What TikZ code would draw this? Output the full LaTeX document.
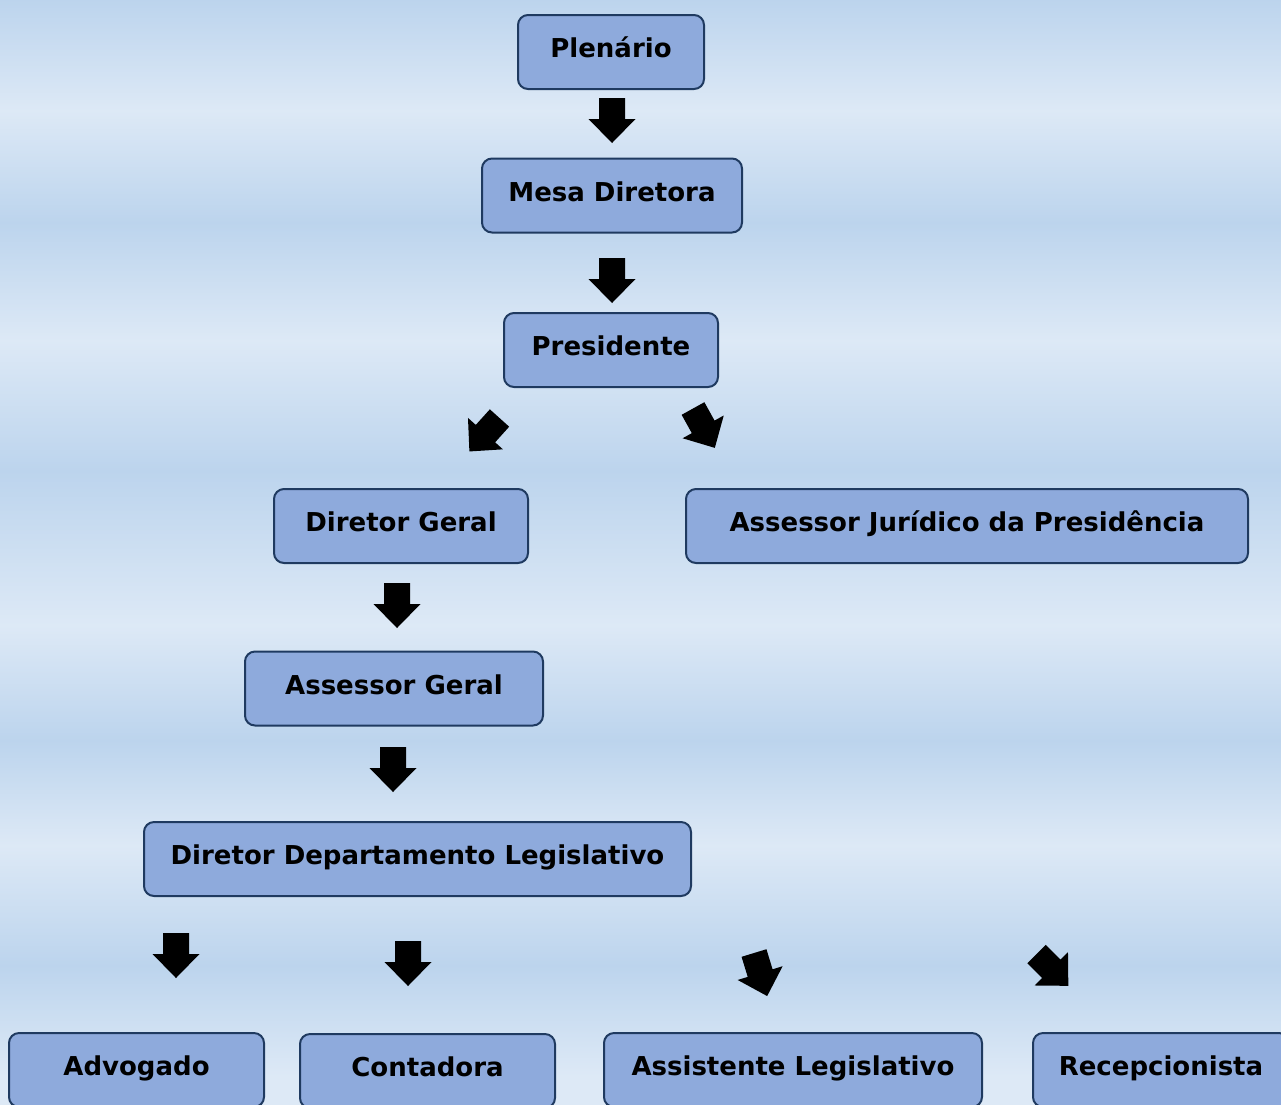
\documentclass[tikz,border=0pt]{standalone}
\usepackage{fontspec}
\setmainfont{DejaVu Sans}
\definecolor{bglight}{HTML}{DDE9F6}
\definecolor{bgdark}{HTML}{BCD4ED}
\definecolor{boxfill}{HTML}{8EAADC}
\definecolor{boxline}{HTML}{1F3A60}
\tikzset{
  orgbox/.style={draw=boxline,fill=boxfill,line width=2pt,rounded corners=10pt,
    minimum height=74pt,minimum width=#1,inner sep=0pt,text height=20pt,text depth=9pt,
    font=\fontsize{26}{30}\selectfont\bfseries},
  blockarr/.pic={\fill[black] (-13,0) -- (13,0) -- (13,21) -- (23.5,21) -- (0,45)
    -- (-23.5,21) -- (-13,21) -- cycle;}
}
\begin{document}
\begin{tikzpicture}[x=1pt,y=-1pt]
\useasboundingbox (0,0) rectangle (1281,1104);
\clip (0,0) rectangle (1281,1104);
% background stripes
\foreach \ya/\yb/\ca/\cb in {-1/111/bgdark/bglight,110/223/bglight/bgdark,
  222/341/bgdark/bglight,340/471/bglight/bgdark,470/626/bgdark/bglight,
  625/741/bglight/bgdark,740/846/bgdark/bglight,845/966/bglight/bgdark,
  965/1076/bgdark/bglight,1075/1105/bglight/bglight}
  \shade[top color=\ca,bottom color=\cb] (-1,\ya) rectangle (1282,\yb);
% boxes
\node[orgbox=186pt] (plenario) at (611,52) {Plenário};
\node[orgbox=260pt] (mesa) at (612,195.5) {Mesa Diretora};
\node[orgbox=214pt] (presidente) at (611,350) {Presidente};
\node[orgbox=254pt] (diretor) at (401,526) {Diretor Geral};
\node[orgbox=562pt] (juridico) at (967,526) {Assessor Jurídico da Presidência};
\node[orgbox=298pt] (assessor) at (394,688.5) {Assessor Geral};
\node[orgbox=547pt] (depto) at (417.5,859) {Diretor Departamento Legislativo};
\node[orgbox=255pt] (advogado) at (136.5,1070) {Advogado};
\node[orgbox=255pt] (contadora) at (427.5,1071) {Contadora};
\node[orgbox=378pt] (assistente) at (793,1070) {Assistente Legislativo};
\node[orgbox=256pt] (recepcao) at (1161,1070) {Recepcionista};
% arrows
\pic at (612,98) {blockarr};
\pic at (612,258) {blockarr};
\pic[rotate=-42] at (499.5,418) {blockarr};
\pic[rotate=29] at (693,408.5) {blockarr};
\pic at (397,583) {blockarr};
\pic at (393,747) {blockarr};
\pic at (176,933) {blockarr};
\pic at (408,941) {blockarr};
\pic[rotate=17] at (754,953) {blockarr};
\pic[rotate=45] at (1036.5,954) {blockarr};
\end{tikzpicture}
\end{document}
